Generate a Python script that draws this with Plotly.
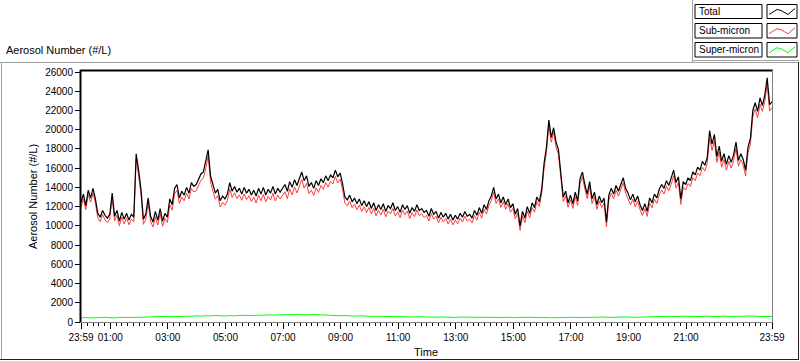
import plotly.graph_objects as go

# ---------------- data ----------------
# Total aerosol number (#/L), 5-minute samples, minutes after 23:59
total = [
    12400, 13300, 12100, 13700, 12900, 13900, 12800, 11300, 10900, 11600, 11100, 10800,
    11200, 13400, 11000, 11600, 10500, 11400, 10700, 11300, 10600, 11200, 10900, 17500,
    15800, 13800, 10700, 11200, 12900, 11000, 10400, 11500, 10600, 11800, 10500, 11300,
    10900, 12800, 12200, 13900, 14300, 12900, 13600, 13200, 14000, 13400, 14500, 14100,
    14300, 14900, 15400, 15600, 16600, 17900, 15200, 14200, 13400, 13800, 12600, 13100,
    12800, 13300, 14500, 13600, 14100, 13500, 13900, 13300, 14000, 13400, 13800, 13200,
    13700, 13100, 13900, 13300, 14000, 13200, 13800, 13400, 14100, 13300, 13900, 13500,
    13900, 14300, 13600, 14600, 14000, 14800, 14200, 15000, 15600, 14700, 15200, 14100,
    14500, 13900, 14700, 14200, 14900, 14500, 15200, 14700, 15300, 15000, 15800, 15100,
    15500, 14400, 13000, 12700, 13200, 12500, 12900, 12300, 12800, 12100, 12600, 12000,
    12500, 11800, 12400, 11600, 12200, 11700, 12300, 11500, 12100, 11800, 12400, 11600,
    12000, 11400, 12200, 11700, 12100, 11300, 11900, 11500, 12200, 11600, 11800, 11400,
    11600, 11000, 11800, 11200, 11500, 10800, 11400, 10900, 11300, 10700, 11200, 10600,
    11100, 10700, 11300, 10900, 11500, 11000, 11200, 10800, 11600, 11100, 11900, 11300,
    12200, 11700, 12600, 13100, 14000, 12800, 13300, 12400, 13000, 12200, 12800, 11900,
    12300, 11200, 11800, 10000, 11500, 10800, 12000, 11300, 12400, 11900, 13000, 12500,
    13800, 16500, 18200, 21000, 19200, 20200, 18700, 17900, 15200, 13000, 13600, 12400,
    13200, 12300, 13500, 12600, 14900, 15600, 14300, 13300, 14600, 12800, 13500, 12200,
    13100, 12400, 12900, 10400, 13200, 13900, 13300, 14200, 13600, 14400, 15000, 13900,
    13400, 12700, 13300, 12500, 13100, 12200, 11600, 12300, 11500, 12900, 12400, 13300,
    12900, 13800, 14300, 13900, 14700, 14200, 14900, 15800, 14500, 15100, 12800, 14600,
    14300, 15000, 14700, 15600, 15300, 16100, 15800, 16700, 16300, 17100, 19900, 18500,
    19500, 17200, 18300, 16700, 17500, 16400, 17300, 16600, 17400, 18700, 16800, 17500,
    16900, 15800, 18200, 19100, 22000, 22800, 21900, 23300, 22500, 23600, 25400, 22600, 22900,
]

sub_micron = [
    11950, 12800, 11700, 13250, 12450, 13400, 12350, 10850, 10420, 11180, 10640, 10330,
    10720, 12900, 10540, 11110, 10010, 10920, 10200, 10830, 10110, 10700, 10430, 16950,
    15250, 13300, 10160, 10680, 12360, 10470, 9880, 10950, 10090, 11260, 9960, 10780,
    10330, 12200, 11640, 13300, 13710, 12330, 13000, 12610, 13410, 12800, 13900, 13520,
    13650, 14270, 14750, 14980, 15930, 17250, 14560, 13560, 12770, 13150, 11980, 12450,
    12150, 12620, 13830, 12950, 13430, 12840, 13220, 12660, 13320, 12730, 13140, 12520,
    12990, 12380, 13200, 12600, 13270, 12500, 13080, 12700, 13380, 12580, 13190, 12790,
    13140, 13550, 12830, 13850, 13230, 14050, 13420, 14240, 14830, 13940, 14430, 13350,
    13720, 13160, 13960, 13480, 14190, 13800, 14520, 14030, 14640, 14350, 15150, 14460,
    14860, 13780, 12360, 12080, 12570, 11880, 12260, 11680, 12170, 11480, 11980, 11380,
    11910, 11230, 11810, 11030, 11620, 11130, 11720, 10930, 11530, 11240, 11810, 11030,
    11440, 10860, 11650, 11160, 11550, 10760, 11360, 10960, 11650, 11060, 11260, 10860,
    11080, 10500, 11290, 10700, 10990, 10300, 10890, 10400, 10790, 10200, 10700, 10100,
    10600, 10200, 10800, 10400, 11000, 10500, 10700, 10300, 11090, 10600, 11390, 10800,
    11720, 11220, 12110, 12620, 13500, 12320, 12810, 11920, 12520, 11720, 12310, 11420,
    11820, 10720, 11310, 9530, 11020, 10320, 11520, 10830, 11910, 11420, 12510, 12020,
    13330, 16000, 17700, 20450, 18700, 19700, 18200, 17420, 14730, 12530, 13130, 11930,
    12720, 11820, 13020, 12120, 14420, 15100, 13820, 12830, 14120, 12320, 13030, 11720,
    12600, 11890, 12400, 9900, 12690, 13390, 12790, 13700, 13090, 13880, 14480, 13390,
    12870, 12180, 12770, 11980, 12570, 11680, 11080, 11780, 10980, 12370, 11870, 12770,
    12330, 13220, 13730, 13320, 14120, 13640, 14320, 15210, 13920, 14520, 12230, 14020,
    13710, 14400, 14110, 15000, 14700, 15500, 15210, 16100, 15700, 16500, 19200, 17850,
    18850, 16600, 17680, 16100, 16900, 15800, 16700, 16000, 16790, 18050, 16200, 16900,
    16300, 15200, 17600, 18500, 21350, 22150, 21250, 22650, 21900, 22950, 24750, 21950, 22300,
]

# Super-micron, 10-minute samples
super_micron = [
    430, 470, 410, 460, 440, 490, 450, 420, 480, 460, 500, 470,
    510, 480, 530, 560, 520, 570, 590, 550, 600, 580, 620, 590,
    640, 610, 660, 630, 680, 650, 620, 670, 640, 690, 660, 700,
    680, 720, 690, 740, 710, 760, 730, 780, 750, 800, 770, 740,
    790, 760, 720, 750, 700, 680, 650, 670, 630, 610, 640, 600,
    620, 580, 600, 560, 590, 550, 570, 540, 560, 520, 550, 530,
    510, 540, 500, 530, 490, 520, 480, 510, 500, 470, 490, 510,
    480, 500, 460, 490, 470, 500, 450, 480, 510, 470, 490, 460,
    500, 470, 440, 460, 430, 470, 450, 490, 460, 480, 500, 470,
    490, 520, 480, 510, 540, 500, 530, 490, 520, 550, 510, 540,
    560, 530, 570, 590, 550, 600, 580, 620, 590, 570, 610, 580,
    600, 570, 620, 590, 560, 610, 580, 630, 600, 570, 590, 560,
    580,
]

minutes_5 = list(range(0, 1441, 5))
minutes_10 = list(range(0, 1441, 10))

x_tick_vals = [0, 61, 181, 301, 421, 541, 661, 781, 901, 1021, 1141, 1261, 1440]
x_tick_text = ["23:59", "01:00", "03:00", "05:00", "07:00", "09:00", "11:00", "13:00",
               "15:00", "17:00", "19:00", "21:00", "23:59"]
y_tick_vals = [0, 2000, 4000, 6000, 8000, 10000, 12000, 14000, 16000, 18000, 20000,
               22000, 24000, 26000]

series_names = ["Total", "Sub-micron", "Super-micron"]
series_colors = ["#000000", "#ff3c3c", "#00ff00"]

# ---------------- layout helpers ----------------
W, H = 800, 361
L, R, T, B = 81, 772, 70, 322
FONT = "Liberation Sans"


def px(x):
    return (x - L) / (R - L)


def py(y):
    return (B - y) / (B - T)


fig = go.Figure()
fig.add_trace(go.Scatter(x=minutes_10, y=super_micron, mode="lines", name=series_names[2],
                         line=dict(color=series_colors[2], width=1), showlegend=False))
fig.add_trace(go.Scatter(x=minutes_5, y=sub_micron, mode="lines", name=series_names[1],
                         line=dict(color=series_colors[1], width=1), showlegend=False))
fig.add_trace(go.Scatter(x=minutes_5, y=total, mode="lines", name=series_names[0],
                         line=dict(color=series_colors[0], width=1.2), showlegend=False))

shapes = []


def hline(x0, x1, y, color, w=1):
    shapes.append(dict(type="line", xref="paper", yref="paper", x0=px(x0), x1=px(x1),
                       y0=py(y), y1=py(y), line=dict(color=color, width=w), layer="above"))


def vline(x, y0, y1, color, w=1):
    shapes.append(dict(type="line", xref="paper", yref="paper", x0=px(x), x1=px(x),
                       y0=py(y0), y1=py(y1), line=dict(color=color, width=w), layer="above"))


def rect(x0, y0, x1, y1, color="#000000"):
    shapes.append(dict(type="rect", xref="paper", yref="paper", x0=px(x0), x1=px(x1),
                       y0=py(y1), y1=py(y0), line=dict(color=color, width=1),
                       fillcolor="rgba(0,0,0,0)", layer="above"))


# outer panel frame
hline(0, 798, 62.5, "#a0a0a0", 1)
vline(1.5, 62, 359, "#a0a0a0", 1)
hline(0, 799, 359.5, "#202020", 1)
vline(798.5, 62, 360, "#202020", 1)
# legend panel border
vline(692.5, 0, 62, "#a0a0a0", 1)
hline(692, 799, 60.5, "#a0a0a0", 1)

# plot area frame
hline(80, 773, 70.5, "#000000", 2)
vline(80.5, 70, 322, "#000000", 2)
vline(772.5, 70, 322.5, "#808080", 1)
hline(80, 773, 322.5, "#808080", 1)

# legend
leg_rows = [(4.5, 18.5), (23.5, 38.0), (42.5, 57.0)]
annotations = []
for (y0, y1), name, color in zip(leg_rows, series_names, series_colors):
    rect(695, y0, 762, y1)
    rect(767, y0, 797, y1)
    yc = (y0 + y1) / 2
    pts = [(769, yc + 3), (777, yc - 2), (781, yc - 1), (788, yc + 3), (795, yc - 3)]
    path = "M " + " L ".join(f"{px(a)},{py(b)}" for a, b in pts)
    shapes.append(dict(type="path", xref="paper", yref="paper", path=path,
                       line=dict(color=color, width=1), layer="above"))
    annotations.append(dict(text=name, xref="paper", yref="paper", x=px(696.5), y=py(yc),
                            xanchor="left", yanchor="middle", showarrow=False,
                            font=dict(family=FONT, size=10, color="#000000")))

annotations.append(dict(text="Aerosol Number (#/L)", xref="paper", yref="paper",
                        x=px(4), y=py(50), xanchor="left", yanchor="middle", showarrow=False,
                        font=dict(family=FONT, size=11, color="#000000")))
annotations.append(dict(text="Aerosol Number (#/L)", xref="paper", yref="paper",
                        x=px(33), y=py(196), xanchor="center", yanchor="middle",
                        textangle=-90, showarrow=False,
                        font=dict(family=FONT, size=11, color="#000000")))
annotations.append(dict(text="Time", xref="paper", yref="paper",
                        x=px(426), y=py(352), xanchor="center", yanchor="middle",
                        showarrow=False, font=dict(family=FONT, size=11, color="#000000")))

fig.update_layout(
    width=W, height=H,
    margin=dict(l=L, r=W - R, t=T, b=H - B, pad=0, autoexpand=False),
    paper_bgcolor="#ffffff", plot_bgcolor="#ffffff",
    showlegend=False,
    shapes=shapes, annotations=annotations,
    xaxis=dict(range=[0, 1440], tickmode="array", tickvals=x_tick_vals, ticktext=x_tick_text,
               ticks="outside", ticklen=6, tickcolor="#000000", tickwidth=1,
               showgrid=False, zeroline=False, showline=False,
               tickfont=dict(family=FONT, size=10, color="#000000"),
               minor=dict(tickmode="linear", tick0=61, dtick=12, ticks="outside", ticklen=3,
                          tickcolor="#000000", tickwidth=1, showgrid=False)),
    yaxis=dict(range=[0, 26208], tickmode="array", tickvals=y_tick_vals, tickformat="d",
               ticks="outside", ticklen=5, tickcolor="#000000", tickwidth=1,
               showgrid=False, zeroline=False, showline=False,
               tickfont=dict(family=FONT, size=10, color="#000000")),
)

fig.write_html("out.html", config={"displayModeBar": False},
               post_script="document.body.style.margin='0';document.body.style.overflow='hidden';")
